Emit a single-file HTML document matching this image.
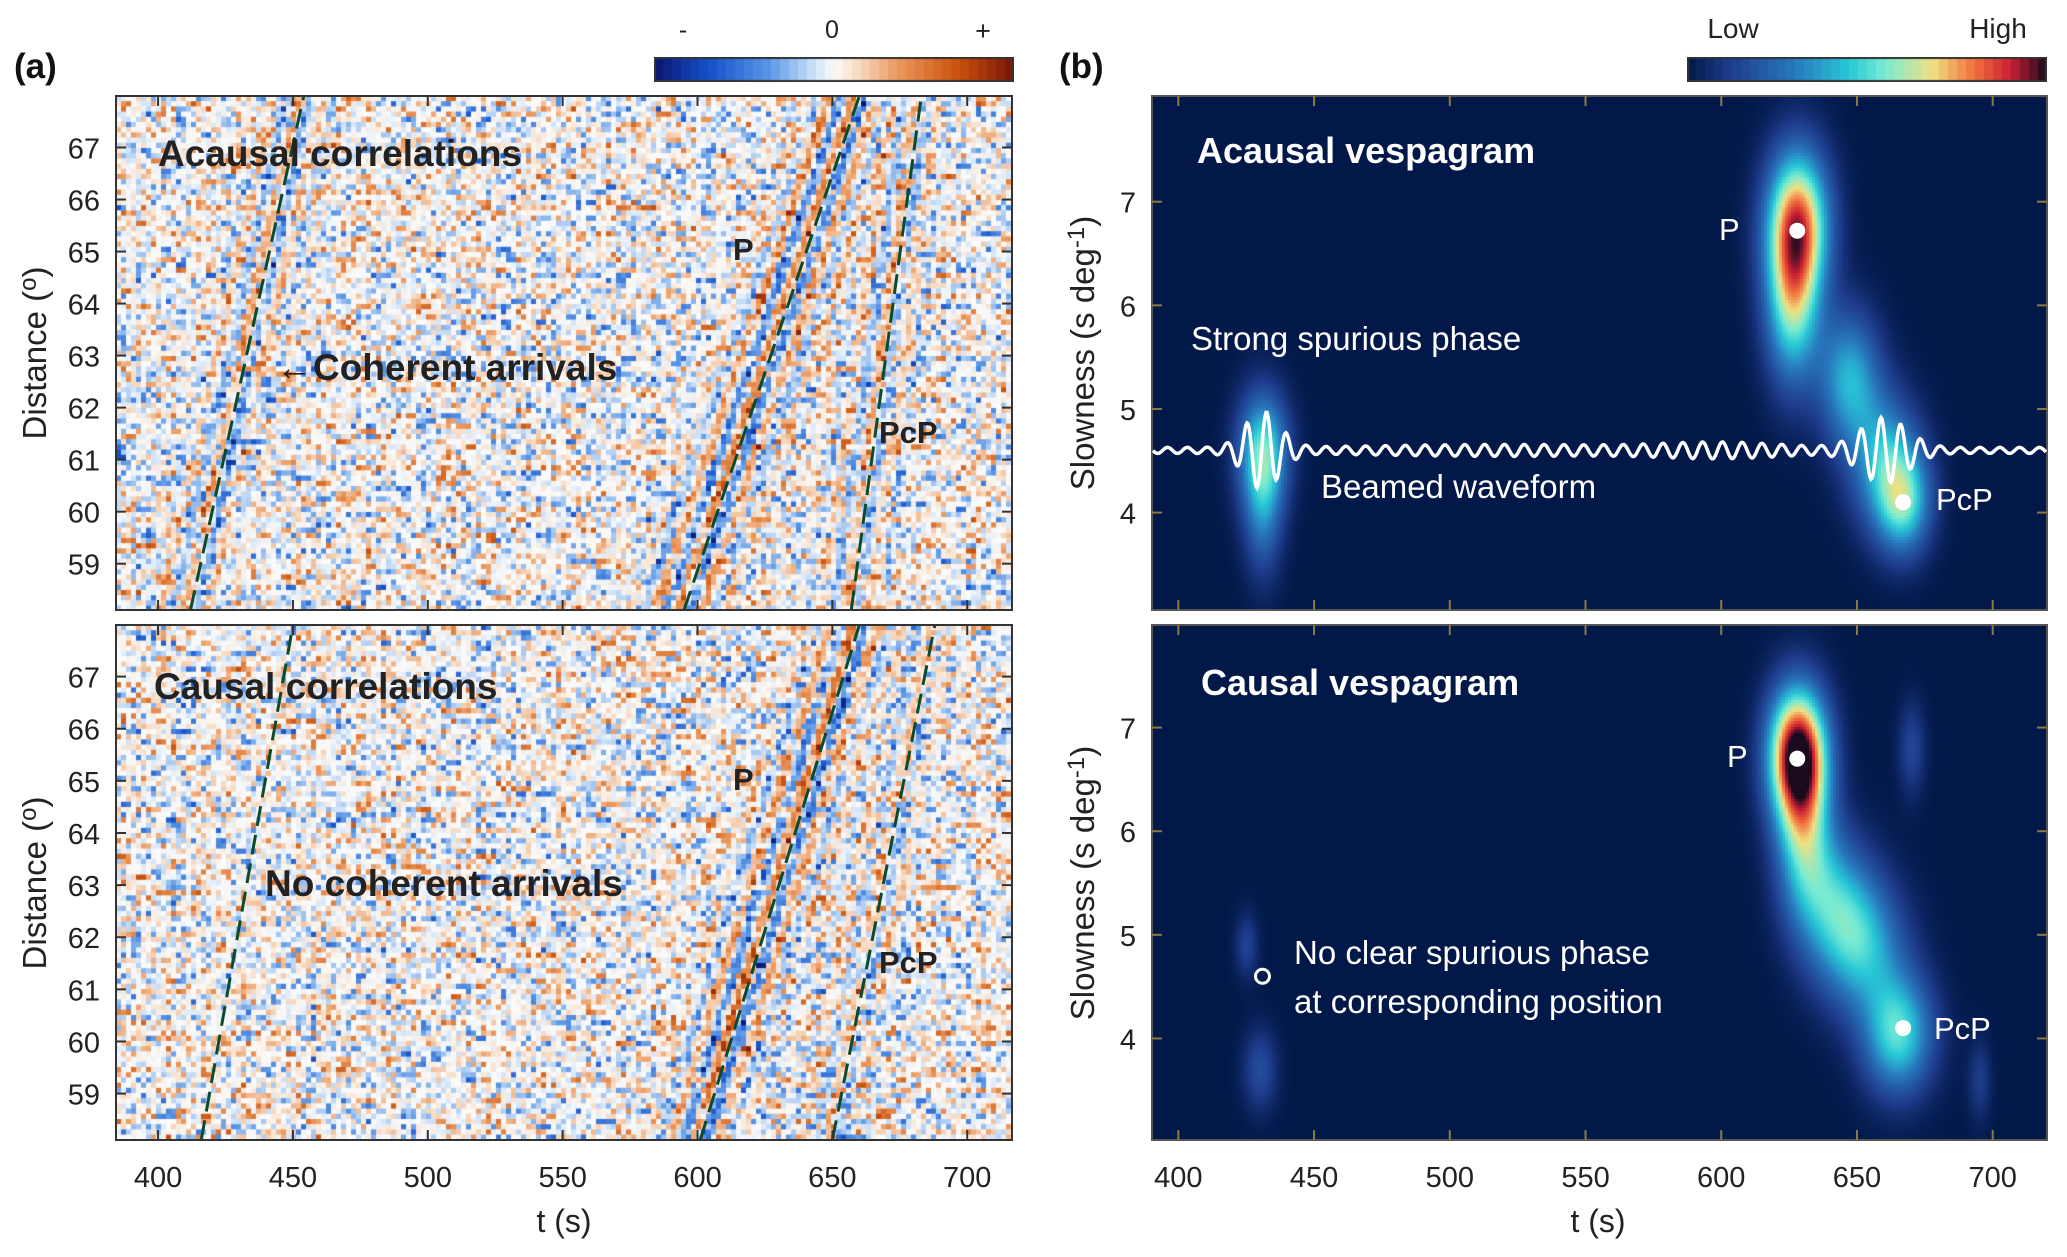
<!DOCTYPE html>
<html><head><meta charset="utf-8">
<style>
html,body{margin:0;padding:0;background:#fff;}
#root{position:relative;width:2067px;height:1257px;overflow:hidden;font-family:"Liberation Sans",sans-serif;}
canvas{position:absolute;}
svg{position:absolute;left:0;top:0;}
</style></head>
<body>
<div id="root">
<canvas id="cA1" style="left:116px;top:96px" width="896" height="514"></canvas>
<canvas id="cA2" style="left:116px;top:625px" width="896" height="515"></canvas>
<canvas id="cB1" style="left:1152px;top:96px" width="895" height="514"></canvas>
<canvas id="cB2" style="left:1152px;top:625px" width="895" height="515"></canvas>
<canvas id="cbar1" style="left:654px;top:57px" width="360" height="25"></canvas>
<canvas id="cbar2" style="left:1687px;top:57px" width="360" height="25"></canvas>
<svg id="ov" width="2067" height="1257"></svg>
</div>
<script>
// ---- data ----
const xTicksL = [400,450,500,550,600,650,700];
const yTicksL = [59,60,61,62,63,64,65,66,67];
const yTicksR = [4,5,6,7];
// dashed arrival lines: time at distance 58.11 (bottom) and 67.99 (top)
const acausalLineBottom = [412, 595, 657];
const acausalLineTop = [454, 660, 683];
const causalLineBottom = [416, 601, 650];
const causalLineTop = [450, 660, 688];
// coherent stripe strength along each line
const acausalStripeAmp = [0.4, 0.7, 0.35];
const causalStripeAmp = [0.0, 0.7, 0.25];
// vespagram blobs: time, slowness, amplitude, sigmaT, sigmaS
const acausalBlobT = [628, 626, 647, 660, 667, 431, 431];
const acausalBlobS = [6.8, 6.0, 5.3, 4.5, 4.1, 4.6, 4.0];
const acausalBlobA = [0.78, 0.5, 0.4, 0.38, 0.45, 0.48, 0.25];
const acausalBlobST = [8, 7, 8, 9, 7, 6.5, 5];
const acausalBlobSS = [0.5, 0.55, 0.45, 0.45, 0.35, 0.4, 0.45];
const causalBlobT = [628, 630, 640, 651, 665, 430, 425, 670, 695];
const causalBlobS = [6.75, 6.0, 5.4, 4.9, 4.05, 3.7, 4.9, 6.8, 3.6];
const causalBlobA = [1.0, 0.42, 0.32, 0.42, 0.5, 0.17, 0.14, 0.15, 0.12];
const causalBlobST = [7.5, 7, 10, 11, 9, 4.5, 3, 3.5, 3];
const causalBlobSS = [0.45, 0.55, 0.45, 0.45, 0.4, 0.28, 0.22, 0.32, 0.28];
// picked phases
const acausalPickT = [628, 667]; const acausalPickS = [6.72, 4.1];
const causalPickT = [628, 667]; const causalPickS = [6.7, 4.1];
// beamed waveform wavelets: center time, amplitude (px), width (s)
const waveletT = [431, 660, 520, 600];
const waveletA = [36, 30, 3, 5];
const waveletW = [9, 12, 60, 30];

// ---- axes ----
const xL = t => 116 + (t - 384.4) * (896 / 332.2);
const yLtop = d => 96 + (67.99 - d) * (514 / 9.88);
const yLbot = d => 625 + (67.99 - d) * (515 / 9.88);
const xR = t => 1152 + (t - 390.3) * (895 / 329.7);
const yRtop = s => 96 + (8.02 - s) * (514 / 4.96);
const yRbot = s => 625 + (7.99 - s) * (515 / 4.97);

// ---- helpers ----
function hash(i, j, k) { let h = (i * 374761393 + j * 668265263 + k * 982451653) | 0; h = (h ^ (h >>> 13)) * 1274126177 | 0; h = h ^ (h >>> 16); return ((h >>> 0) % 10000) / 10000; }
function lerpStops(stops, v) {
  v = Math.max(0, Math.min(1, v));
  for (let i = 1; i < stops.length; i++) { if (v <= stops[i][0]) { const a = stops[i - 1], b = stops[i]; const f = (v - a[0]) / (b[0] - a[0]); return [0, 1, 2].map(k => Math.round(a[1][k] + (b[1][k] - a[1][k]) * f)); } }
  return stops[stops.length - 1][1];
}
const divStops = [[0, [10, 20, 110]], [0.15, [20, 80, 200]], [0.32, [90, 150, 230]], [0.45, [210, 228, 248]], [0.5, [250, 250, 250]], [0.55, [248, 228, 210]], [0.68, [235, 150, 90]], [0.85, [200, 80, 10]], [1, [120, 20, 10]]];
const vesStops = [[0, [2, 24, 72]], [0.12, [30, 60, 140]], [0.3, [40, 120, 190]], [0.45, [40, 200, 215]], [0.55, [120, 235, 210]], [0.68, [240, 225, 130]], [0.8, [240, 110, 60]], [0.9, [200, 30, 50]], [1, [25, 10, 30]]];

function drawNoise(id, bottomArr, topArr, ampArr, seed) {
  const c = document.getElementById(id), ctx = c.getContext('2d');
  const W = c.width, H = c.height;
  const cw = 5, ch = 5.2;
  for (let r = 0; r * ch < H; r++) {
    const d = 67.99 - (r * ch + ch / 2) / (H / 9.88);
    for (let q = 0; q * cw < W; q++) {
      const t = 384.4 + (q * cw + cw / 2) / (896 / 332.2);
      let v = (hash(q, r, seed) - 0.5) * 0.9 + (hash(q >> 2, r, seed + 7) - 0.5) * 0.5;
      v = Math.sign(v) * Math.pow(Math.abs(v) * 1.4, 1.8) * 0.75;
      for (let k = 0; k < bottomArr.length; k++) {
        const t0 = bottomArr[k] + (topArr[k] - bottomArr[k]) * (d - 58.11) / 9.88;
        const dt = t - t0 + 2;
        v += ampArr[k] * 0.7 * Math.cos(2 * Math.PI * dt / 9) * Math.exp(-(dt * dt) / 200);
      }
      const col = lerpStops(divStops, 0.5 + v * 0.5);
      ctx.fillStyle = `rgb(${col[0]},${col[1]},${col[2]})`;
      ctx.fillRect(q * cw, r * ch, cw + 0.5, ch + 0.5);
    }
  }
}
drawNoise('cA1', acausalLineBottom, acausalLineTop, acausalStripeAmp, 11);
drawNoise('cA2', causalLineBottom, causalLineTop, causalStripeAmp, 29);

function drawVes(id, T, S, A, ST, SS, sTop, sRange) {
  const c = document.getElementById(id), ctx = c.getContext('2d');
  const W = c.width, H = c.height, img = ctx.createImageData(W, H);
  const step = 3;
  for (let y = 0; y < H; y += step) {
    const s = sTop - (y + 1) / H * sRange;
    for (let x = 0; x < W; x += step) {
      const t = 390.3 + (x + 1) / W * 329.7;
      let v = 0;
      for (let k = 0; k < T.length; k++) { const a = (t - T[k]) / ST[k], b = (s - S[k]) / SS[k]; v += A[k] * Math.exp(-0.5 * (a * a + b * b)); }
      const col = lerpStops(vesStops, v);
      for (let yy = y; yy < Math.min(H, y + step); yy++) for (let xx = x; xx < Math.min(W, x + step); xx++) { const i = (yy * W + xx) * 4; img.data[i] = col[0]; img.data[i + 1] = col[1]; img.data[i + 2] = col[2]; img.data[i + 3] = 255; }
    }
  }
  ctx.putImageData(img, 0, 0);
}
drawVes('cB1', acausalBlobT, acausalBlobS, acausalBlobA, acausalBlobST, acausalBlobSS, 8.02, 4.96);
drawVes('cB2', causalBlobT, causalBlobS, causalBlobA, causalBlobST, causalBlobSS, 7.99, 4.97);

function drawBar(id, stops, n) {
  const c = document.getElementById(id), ctx = c.getContext('2d');
  for (let i = 0; i < n; i++) { const col = lerpStops(stops, (i + 0.5) / n); ctx.fillStyle = `rgb(${col[0]},${col[1]},${col[2]})`; ctx.fillRect(i * c.width / n, 0, c.width / n + 0.5, c.height); }
  ctx.strokeStyle = '#333'; ctx.lineWidth = 2; ctx.strokeRect(1, 1, c.width - 2, c.height - 2);
}
drawBar('cbar1', divStops, 40);
drawBar('cbar2', vesStops, 40);

// ---- SVG overlay ----
const NS = 'http://www.w3.org/2000/svg';
const ov = document.getElementById('ov');
function el(tag, attrs, text) { const e = document.createElementNS(NS, tag); for (const k in attrs) e.setAttribute(k, attrs[k]); if (text !== undefined) e.textContent = text; ov.appendChild(e); return e; }
function txt(x, y, s, size, weight, fill, anchor, name) {
  const e = el('text', { x: x, y: y, 'font-size': size, 'font-weight': weight, fill: fill, 'text-anchor': anchor || 'start', 'font-family': 'Liberation Sans, sans-serif' }, s);
  
  
  return e;
}

function dashed(bot, top, yf, name) {
  for (let k = 0; k < bot.length; k++) {
    const e = el('line', { x1: xL(bot[k]), y1: yf(58.11), x2: xL(top[k]), y2: yf(67.99), stroke: '#0b4a2c', 'stroke-width': 3, 'stroke-dasharray': '20,9' });
    
    
  }
}
dashed(acausalLineBottom, acausalLineTop, yLtop, 'acausal-moveout-line');
dashed(causalLineBottom, causalLineTop, yLbot, 'causal-moveout-line');

function frame(x0, y0, x1, y1, name, col) {
  const e = el('rect', { x: x0, y: y0, width: x1 - x0, height: y1 - y0, fill: 'none', stroke: col, 'stroke-width': 2 });
  
  
}
frame(116, 96, 1012, 610, 'acausal-correlation-axes', '#333');
frame(116, 625, 1012, 1140, 'causal-correlation-axes', '#333');
frame(1152, 96, 2047, 610, 'acausal-vespagram-axes', '#555');
frame(1152, 625, 2047, 1140, 'causal-vespagram-axes', '#555');

function xticks(xf, y0, y1, col) {
  xTicksL.forEach(t => {
    const x = xf(t);
    el('line', { x1: x, y1: y1, x2: x, y2: y1 - 10, stroke: col, 'stroke-width': 2 });
    el('line', { x1: x, y1: y0, x2: x, y2: y0 + 10, stroke: col, 'stroke-width': 2 });
  });
}
xticks(xL, 96, 610, '#333'); xticks(xL, 625, 1140, '#333');
xticks(xR, 96, 610, '#8a7a40'); xticks(xR, 625, 1140, '#8a7a40');
xTicksL.forEach(t => { txt(xL(t), 1187, String(t), 29, 'normal', '#222', 'middle', 'x-tick-label-a'); txt(xR(t), 1187, String(t), 29, 'normal', '#222', 'middle', 'x-tick-label-b'); });
[yLtop, yLbot].forEach(yf => yTicksL.forEach(d => {
  const y = yf(d);
  el('line', { x1: 116, y1: y, x2: 126, y2: y, stroke: '#333', 'stroke-width': 2 });
  el('line', { x1: 1012, y1: y, x2: 1002, y2: y, stroke: '#333', 'stroke-width': 2 });
  txt(100, y + 11, String(d), 29, 'normal', '#222', 'end', 'y-tick-label-distance');
}));
[yRtop, yRbot].forEach(yf => yTicksR.forEach(s => {
  const y = yf(s);
  el('line', { x1: 1152, y1: y, x2: 1162, y2: y, stroke: '#8a7a40', 'stroke-width': 2 });
  el('line', { x1: 2047, y1: y, x2: 2037, y2: y, stroke: '#8a7a40', 'stroke-width': 2 });
  txt(1136, y + 11, String(s), 29, 'normal', '#222', 'end', 'y-tick-label-slowness');
}));

txt(564, 1232, 't (s)', 32, 'normal', '#222', 'middle', 'x-axis-title-a');
txt(1598, 1232, 't (s)', 32, 'normal', '#222', 'middle', 'x-axis-title-b');
[353, 883].forEach(cy => {
  const e = el('text', { x: 0, y: 0, 'font-size': 33, fill: '#222', 'text-anchor': 'middle', transform: `translate(46,${cy}) rotate(-90)`, 'font-family': 'Liberation Sans, sans-serif' });
  
  
  e.innerHTML = 'Distance (<tspan font-size="24" dy="-10">o</tspan><tspan dy="10">)</tspan>';
  const f = el('text', { x: 0, y: 0, 'font-size': 33, fill: '#222', 'text-anchor': 'middle', transform: `translate(1094,${cy}) rotate(-90)`, 'font-family': 'Liberation Sans, sans-serif' });
  
  
  f.innerHTML = 'Slowness (s deg<tspan font-size="24" dy="-10">-1</tspan><tspan dy="10">)</tspan>';
});

txt(14, 78, '(a)', 35, 'bold', '#111', 'start', 'panel-label-a');
txt(1059, 78, '(b)', 35, 'bold', '#111', 'start', 'panel-label-b');
txt(683, 38, '-', 25, 'normal', '#222', 'middle', 'colorbar-minus-label');
txt(832, 38, '0', 25, 'normal', '#222', 'middle', 'colorbar-zero-label');
txt(983, 40, '+', 27, 'normal', '#222', 'middle', 'colorbar-plus-label');
txt(1733, 38, 'Low', 28, 'normal', '#222', 'middle', 'colorbar-low-label');
txt(1998, 38, 'High', 28, 'normal', '#222', 'middle', 'colorbar-high-label');

txt(158, 166, 'Acausal correlations', 37, 'bold', '#222', 'start', 'acausal-title');
txt(733, 260, 'P', 31, 'bold', '#222', 'start', 'p-label-a-top');
txt(276, 380, '←Coherent arrivals', 37, 'bold', '#222', 'start', 'coherent-arrivals-label');
txt(879, 443, 'PcP', 31, 'bold', '#222', 'start', 'pcp-label-a-top');
txt(154, 699, 'Causal correlations', 37, 'bold', '#222', 'start', 'causal-title');
txt(733, 790, 'P', 31, 'bold', '#222', 'start', 'p-label-a-bottom');
txt(265, 896, 'No coherent arrivals', 37, 'bold', '#222', 'start', 'no-coherent-arrivals-label');
txt(879, 973, 'PcP', 31, 'bold', '#222', 'start', 'pcp-label-a-bottom');

(function () {
  let d = '';
  const y0 = yRtop(4.6);
  for (let x = 1153; x <= 2046; x += 1) {
    const t = 390.3 + (x - 1152) / (895 / 329.7);
    let a = 3;
    for (let k = 0; k < waveletT.length; k++) { const u = (t - waveletT[k]) / waveletW[k]; a += waveletA[k] * Math.exp(-u * u); }
    const y = y0 - a * Math.sin(2 * Math.PI * t / 7.3);
    d += (x === 1153 ? 'M' : 'L') + x + ',' + y.toFixed(1);
  }
  const e = el('path', { d: d, fill: 'none', stroke: '#fff', 'stroke-width': 3.5 });
  
  
})();

acausalPickT.forEach((t, i) => { const e = el('circle', { cx: xR(t), cy: yRtop(acausalPickS[i]), r: 8, fill: '#fff' });   });
causalPickT.forEach((t, i) => { const e = el('circle', { cx: xR(t), cy: yRbot(causalPickS[i]), r: 8, fill: '#fff' });   });
(function () { const e = el('circle', { cx: xR(431), cy: yRbot(4.6), r: 7, fill: 'none', stroke: '#fff', 'stroke-width': 3 });   })();

txt(1197, 163, 'Acausal vespagram', 36, 'bold', '#fff', 'start', 'acausal-vespagram-title');
txt(1719, 240, 'P', 31, 'normal', '#fff', 'start', 'p-label-b-top');
txt(1191, 350, 'Strong spurious phase', 33, 'normal', '#fff', 'start', 'strong-spurious-label');
txt(1321, 498, 'Beamed waveform', 33, 'normal', '#fff', 'start', 'beamed-waveform-label');
txt(1936, 510, 'PcP', 31, 'normal', '#fff', 'start', 'pcp-label-b-top');
txt(1201, 695, 'Causal vespagram', 36, 'bold', '#fff', 'start', 'causal-vespagram-title');
txt(1727, 767, 'P', 31, 'normal', '#fff', 'start', 'p-label-b-bottom');
txt(1294, 964, 'No clear spurious phase', 33, 'normal', '#fff', 'start', 'no-spurious-label-1');
txt(1294, 1013, 'at corresponding position', 33, 'normal', '#fff', 'start', 'no-spurious-label-2');
txt(1934, 1039, 'PcP', 31, 'normal', '#fff', 'start', 'pcp-label-b-bottom');
</script>
</body></html>
